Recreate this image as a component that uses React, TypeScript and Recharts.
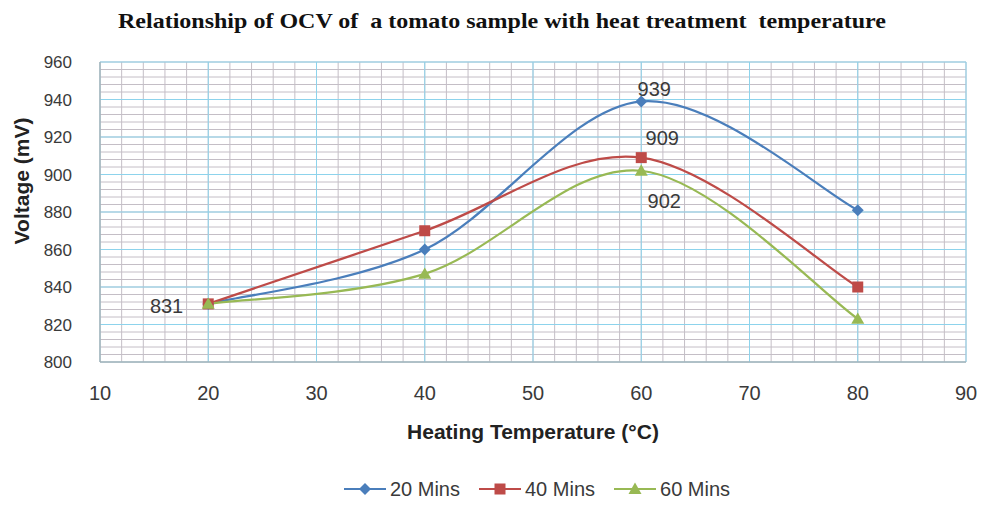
import React from "react";
import { LineChart, Line, XAxis, YAxis, CartesianGrid, Legend, Label } from "recharts";

document.body.style.margin = "0";

const temps = [20, 40, 60, 80];
const mins20 = [831, 860, 939, 881];
const mins40 = [831, 870, 909, 840];
const mins60 = [831, 847, 902, 823];
const xTicks = [10, 20, 30, 40, 50, 60, 70, 80, 90];
const yTicks = [800, 820, 840, 860, 880, 900, 920, 940, 960];

const data = temps.map((t, i) => ({ t, m20: mins20[i], m40: mins40[i], m60: mins60[i] }));

const series = [
  { key: "m20", name: "20 Mins", color: "#4a7ebb", shape: "diamond" },
  { key: "m40", name: "40 Mins", color: "#be4b48", shape: "square" },
  { key: "m60", name: "60 Mins", color: "#98b954", shape: "triangle" },
];

const FONT = "'Liberation Sans', Arial, sans-serif";
const TEXT = "#3a3a3a";

// excel style smoothing (catmull-rom, tangent / 6)
const excelCurve = (ctx: any) => {
  let pts: number[][] = [];
  return {
    areaStart() {},
    areaEnd() {},
    lineStart() {
      pts = [];
    },
    point(x: number, y: number) {
      pts.push([+x, +y]);
    },
    lineEnd() {
      if (!pts.length) return;
      ctx.moveTo(pts[0][0], pts[0][1]);
      for (let i = 0; i < pts.length - 1; i++) {
        const p0 = pts[i - 1] || pts[i];
        const p1 = pts[i];
        const p2 = pts[i + 1];
        const p3 = pts[i + 2] || pts[i + 1];
        ctx.bezierCurveTo(
          p1[0] + (p2[0] - p0[0]) / 6,
          p1[1] + (p2[1] - p0[1]) / 6,
          p2[0] - (p3[0] - p1[0]) / 6,
          p2[1] - (p3[1] - p1[1]) / 6,
          p2[0],
          p2[1]
        );
      }
    },
  };
};

function Marker({ shape, x, y, color }: { shape: string; x: number; y: number; color: string }) {
  if (shape === "diamond") {
    const r = 6;
    return <path d={`M${x},${y - r}L${x + r},${y}L${x},${y + r}L${x - r},${y}Z`} fill={color} />;
  }
  if (shape === "square") {
    const r = 5.5;
    return <rect x={x - r} y={y - r} width={r * 2} height={r * 2} fill={color} />;
  }
  const r = 6.5;
  return <path d={`M${x},${y - r}L${x + r},${y + r * 0.75}L${x - r},${y + r * 0.75}Z`} fill={color} />;
}

const makeDot = (s: (typeof series)[number]) => (p: any) => (
  <Marker key={`${s.key}-${p.index}`} shape={s.shape} x={p.cx} y={p.cy} color={s.color} />
);

const labelText = (x: number, y: number, v: number, anchor: string) => (
  <text x={x} y={y} textAnchor={anchor} fontFamily={FONT} fontSize={20} fill={TEXT}>
    {v}
  </text>
);

const label20 = (p: any) => {
  if (p.index === 2) return labelText(p.x + 13, p.y - 5, p.value, "middle");
  if (p.index === 0) return labelText(p.x - 25, p.y + 9, p.value, "end");
  return null;
};
const label40 = (p: any) => (p.index === 2 ? labelText(p.x + 21, p.y - 13, p.value, "middle") : null);
const label60 = (p: any) => (p.index === 2 ? labelText(p.x + 23, p.y + 37, p.value, "middle") : null);
const labels: Record<string, any> = { m20: label20, m40: label40, m60: label60 };

const minorX: number[] = [];
for (let v = 10; v <= 90; v += 2) minorX.push(v);
const minorY: number[] = [];
for (let v = 800; v <= 960; v += 4) minorY.push(v);

const vGen = ({ xAxis, offset }: any) =>
  minorX.map((v) =>
    xAxis && typeof xAxis.scale === "function"
      ? xAxis.scale(v)
      : offset.left + (offset.width * (v - 10)) / 80
  );
const hGen = ({ yAxis, offset }: any) =>
  minorY.map((v) =>
    yAxis && typeof yAxis.scale === "function"
      ? yAxis.scale(v)
      : offset.top + (offset.height * (960 - v)) / 160
  );

function LegendContent() {
  return (
    <div
      style={{
        display: "flex",
        justifyContent: "center",
        alignItems: "center",
        height: 26,
        paddingLeft: 108,
        fontFamily: FONT,
        fontSize: 20,
        color: TEXT,
      }}
    >
      {series.map((s) => (
        <div key={s.key} style={{ display: "flex", alignItems: "center", marginRight: 19 }}>
          <svg width={42} height={16} style={{ marginRight: 4 }}>
            <line x1={0} y1={8} x2={42} y2={8} stroke={s.color} strokeWidth={2} />
            <Marker shape={s.shape} x={21} y={8} color={s.color} />
          </svg>
          <span>{s.name}</span>
        </div>
      ))}
    </div>
  );
}

export default function App() {
  return (
    <div style={{ position: "relative", width: 985, height: 506, background: "#fff" }}>
      <svg width={985} height={40} style={{ position: "absolute", left: 0, top: 0 }}>
        <text
          x={502}
          y={28}
          textAnchor="middle"
          fontFamily="'Liberation Serif', 'Times New Roman', serif"
          fontWeight="bold"
          fontSize={22}
          textLength={768}
          lengthAdjust="spacingAndGlyphs"
          fill="#111"
          style={{ whiteSpace: "pre" }}
        >
          Relationship of OCV of  a tomato sample with heat treatment  temperature
        </text>
      </svg>
      <LineChart width={985} height={506} data={data} margin={{ top: 62, right: 19, left: 10, bottom: 4 }}>
        <CartesianGrid
          stroke="#c4bec6"
          verticalCoordinatesGenerator={vGen}
          horizontalCoordinatesGenerator={hGen}
        />
        <CartesianGrid stroke="#8dd3ec" />
        <XAxis
          dataKey="t"
          type="number"
          domain={[10, 90]}
          ticks={xTicks}
          height={114}
          tickSize={0}
          tickMargin={24}
          axisLine={{ stroke: "#a8a8a8" }}
          tickLine={false}
          tick={{ fontFamily: FONT, fontSize: 20, fill: TEXT }}
        >
          <Label
            content={({ viewBox }: any) => (
              <text
                x={viewBox.x + viewBox.width / 2}
                y={viewBox.y + 69}
                textAnchor="middle"
                dominantBaseline="central"
                fontFamily={FONT}
                fontSize={21}
                fontWeight="bold"
                fill="#222"
              >
                Heating Temperature (°C)
              </text>
            )}
          />
        </XAxis>
        <YAxis
          type="number"
          domain={[800, 960]}
          ticks={yTicks}
          width={90}
          tickSize={0}
          tickMargin={28}
          axisLine={{ stroke: "#a8a8a8" }}
          tickLine={false}
          tick={{ fontFamily: FONT, fontSize: 17, fill: TEXT }}
        >
          <Label
            content={({ viewBox }: any) => {
              const x = viewBox.x + 11;
              const y = viewBox.y + 119;
              return (
                <text
                  x={x}
                  y={y}
                  transform={`rotate(-90, ${x}, ${y})`}
                  textAnchor="middle"
                  dominantBaseline="central"
                  fontFamily={FONT}
                  fontSize={21}
                  fontWeight="bold"
                  fill="#222"
                >
                  Voltage (mV)
                </text>
              );
            }}
          />
        </YAxis>
        <Legend verticalAlign="bottom" wrapperStyle={{ left: 0, width: 985 }} content={<LegendContent />} />
        {series.map((s) => (
          <Line
            key={s.key}
            dataKey={s.key}
            name={s.name}
            type={excelCurve as any}
            stroke={s.color}
            strokeWidth={2.25}
            dot={makeDot(s)}
            activeDot={false}
            label={labels[s.key]}
            isAnimationActive={false}
          />
        ))}
      </LineChart>
    </div>
  );
}
